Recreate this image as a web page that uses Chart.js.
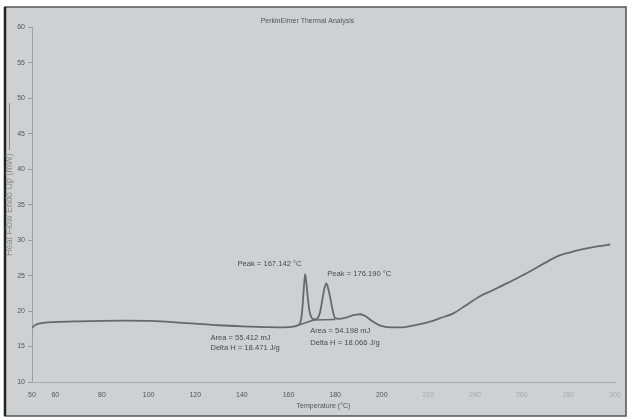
<!DOCTYPE html>
<html>
<head>
<meta charset="utf-8">
<script src="https://cdn.jsdelivr.net/npm/chart.js@4"></script>
<style>
  html, body { margin: 0; padding: 0; background: #fff; }
</style>
</head>
<body>
<canvas id="dscChart" width="632" height="420"></canvas>
<script>
// DSC trace (temperature in °C, heat flow in mW)
const temps = [50, 51, 52.5, 55, 60, 70, 80, 90, 100, 110, 120, 130, 140, 150, 158, 162, 164, 164.8,
  165.5, 166, 166.6, 167.14, 167.7, 168.3, 169, 169.8, 170.6, 171.5, 172.5, 173.5, 174.5, 175.4,
  176.19, 177, 178, 179, 180, 182, 185, 186.5, 189, 190.8, 192.9, 195.8, 199.3, 204, 210, 215,
  220.7, 225, 230.7, 236, 242.1, 248, 253.6, 259, 265, 270, 276.4, 278, 282, 287.9, 293, 297.9];
const heatFlow = [17.6, 17.95, 18.2, 18.35, 18.45, 18.55, 18.62, 18.65, 18.63, 18.45, 18.22, 18.0, 17.85, 17.75, 17.7, 17.8, 18.0, 18.2,
  19.0, 20.6, 23.4, 25.2, 23.8, 21.8, 20.0, 19.1, 18.85, 18.85, 19.0, 19.8, 21.6, 23.2,
  23.9, 23.2, 21.7, 20.0, 19.0, 18.9, 19.1, 19.3, 19.5, 19.55, 19.3, 18.6, 17.95, 17.7, 17.75, 18.05,
  18.5, 19.0, 19.68, 20.8, 22.1, 23.0, 23.9, 24.8, 25.87, 26.8, 27.89, 28.05, 28.4, 28.83, 29.15, 29.39];

// integration baseline under the two peaks
const baseTemps = [162.2, 170.8, 180];
const baseFlow = [17.8, 18.73, 18.83];

const xTicks = [50, 60, 80, 100, 120, 140, 160, 180, 200, 220, 240, 260, 280, 300];
const yTicks = [10, 15, 20, 25, 30, 35, 40, 45, 50, 55, 60];

// peak annotations, anchored at (temperature, heat flow)
const noteTexts = ["Peak = 167.142 °C", "Peak = 176.190 °C", "Area = 55.412 mJ", "Delta H = 18.471 J/g",
  "Area = 54.198 mJ", "Delta H = 18.066 J/g"];
const noteTemps = [138.1, 176.6, 126.5, 126.5, 169.3, 169.3];
const noteFlows = [26.6, 25.2, 16.2, 14.8, 17.2, 15.5];

const FONT = "'Liberation Sans', Arial, sans-serif";
const TEXT = "#555";

const pageFrame = {
  id: "pageFrame",
  beforeDraw(chart) {
    const ctx = chart.ctx;
    ctx.save();
    ctx.fillStyle = "#fff";
    ctx.fillRect(0, 0, chart.width, chart.height);
    ctx.fillStyle = "#cfd0d2";
    ctx.fillRect(5, 7, 621, 409);
    ctx.strokeStyle = "#555";
    ctx.lineWidth = 1.5;
    ctx.strokeRect(5, 7, 621, 409);
    ctx.strokeStyle = "#222";
    ctx.lineWidth = 2.5;
    ctx.beginPath();
    ctx.moveTo(5, 7);
    ctx.lineTo(5, 416);
    ctx.stroke();
    ctx.restore();
  },
  afterDatasetsDraw(chart) {
    const ctx = chart.ctx;
    const x = chart.scales.x, y = chart.scales.y;
    ctx.save();
    ctx.fillStyle = "#4a4a4a";
    ctx.font = "7.6px " + FONT;
    ctx.textBaseline = "middle";
    ctx.textAlign = "left";
    noteTexts.forEach((t, i) => {
      ctx.fillText(t, x.getPixelForValue(noteTemps[i]), y.getPixelForValue(noteFlows[i]));
    });
    // legend stroke beside the rotated axis title
    ctx.strokeStyle = "#8a8a8a";
    ctx.lineWidth = 1;
    ctx.beginPath();
    ctx.moveTo(9.5, 103);
    ctx.lineTo(9.5, 150);
    ctx.stroke();
    ctx.restore();
  }
};

new Chart(document.getElementById("dscChart"), {
  type: "line",
  data: {
    datasets: [
      {
        label: "Heat Flow",
        data: temps.map((t, i) => ({ x: t, y: heatFlow[i] })),
        borderColor: "#686868",
        borderWidth: 1.8,
        pointRadius: 0,
        cubicInterpolationMode: "monotone",
        fill: false,
      },
      {
        label: "Baseline",
        data: baseTemps.map((t, i) => ({ x: t, y: baseFlow[i] })),
        borderColor: "#686868",
        borderWidth: 1.5,
        pointRadius: 0,
        tension: 0,
        fill: false,
      },
    ],
  },
  options: {
    responsive: false,
    animation: false,
    layout: { padding: { left: 0, right: 17, top: 17, bottom: 10 } },
    plugins: {
      legend: { display: false },
      tooltip: { enabled: false },
      title: {
        display: true,
        text: "PerkinElmer Thermal Analysis",
        color: TEXT,
        font: { size: 7, family: FONT, weight: "normal" },
        padding: { top: 0, bottom: 2 },
      },
    },
    scales: {
      x: {
        type: "linear",
        min: 50,
        max: 300,
        afterBuildTicks: (s) => { s.ticks = xTicks.map((v) => ({ value: v })); },
        afterFit: (s) => { s.height = 28; },
        grid: { display: true, drawOnChartArea: false, drawTicks: false },
        border: { display: true, color: "rgba(140,140,140,0.55)", dash: [2, 3] },
        ticks: {
          padding: 9,
          autoSkip: false,
          maxRotation: 0,
          color: (c) => (c.tick && c.tick.value > 200 ? "#a9aaac" : TEXT),
          font: { size: 7, family: FONT },
        },
        title: {
          display: true,
          text: "Temperature (°C)",
          color: TEXT,
          font: { size: 7, family: FONT },
          padding: { top: 0, bottom: 0 },
        },
      },
      y: {
        min: 10,
        max: 60,
        afterBuildTicks: (s) => { s.ticks = yTicks.map((v) => ({ value: v })); },
        afterFit: (s) => { s.width = 32; },
        grid: { display: true, drawOnChartArea: false, drawTicks: true, tickLength: 4, color: "#9a9a9a" },
        border: { display: true, color: "#a0a0a0", width: 1 },
        ticks: { padding: 3, color: TEXT, font: { size: 7, family: FONT } },
        title: {
          display: true,
          text: "Heat Flow Endo Up (mW)",
          color: "#8a8a8a",
          font: { size: 9, family: FONT },
          padding: { top: 4, bottom: 0 },
        },
      },
    },
  },
  plugins: [pageFrame],
});
</script>
</body>
</html>
